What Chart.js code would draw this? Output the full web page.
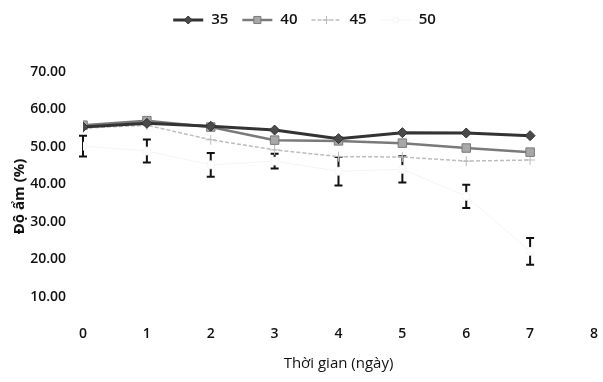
<!DOCTYPE html>
<html>
<head>
<meta charset="utf-8">
<script src="https://cdn.jsdelivr.net/npm/chart.js@4/dist/chart.umd.min.js"></script>
<style>
  body { margin: 0; background: #fff; }
  #wrap { width: 603px; height: 382px; }
</style>
</head>
<body>
<div id="wrap"><canvas id="myChart" width="603" height="382"></canvas></div>
<script>
// days on the x axis
const days = [0, 1, 2, 3, 4, 5, 6, 7];
const seriesNames = ['35', '40', '45', '50'];
// mean moisture (%) per series
const m35 = [55.3, 56.3, 55.5, 54.5, 52.2, 53.8, 53.7, 53.0];
const m40 = [55.8, 57.0, 55.3, 51.8, 51.6, 51.0, 49.7, 48.6];
const m45 = [55.0, 55.8, 51.9, 49.2, 47.4, 47.3, 46.2, 46.5];
const m50 = [50.2, 48.9, 45.2, 46.2, 43.5, 44.0, 36.8, 22.1];
// error bars only visible for the 50 series
const err50 = [2.8, 3.1, 3.2, 2.0, 3.8, 3.5, 3.1, 3.6];
const yTicks = [10, 20, 30, 40, 50, 60, 70];

const FONT = "'Open Sans', sans-serif";

const pts = (arr) => days.map((d, i) => ({ x: d, y: arr[i] }));

const styles = [
    { color: '#333333', fill: '#4a4a4a', width: 3, point: 'rectRot', r: 5, dash: [] },
    { color: '#7a7a7a', fill: '#a8a8a8', width: 2.5, point: 'rect', r: 6, dash: [] },
    { color: '#bdbdbd', fill: '#d4d4d4', width: 1.5, point: 'cross', r: 5, dash: [4, 2] },
    { color: '#f4f4f4', fill: '#ffffff', width: 1, point: 'circle', r: 4, dash: [] }
];
const values = [m35, m40, m45, m50];

const errorBars = {
    id: 'errorBars',
    beforeDatasetsDraw(chart) {
        const { ctx, scales: { x, y } } = chart;
        ctx.save();
        ctx.strokeStyle = '#111';
        ctx.lineWidth = 2;
        days.forEach((d, i) => {
            const px = x.getPixelForValue(d);
            const top = y.getPixelForValue(m50[i] + err50[i]);
            const bot = y.getPixelForValue(m50[i] - err50[i]);
            ctx.beginPath();
            ctx.moveTo(px, top); ctx.lineTo(px, bot);
            ctx.moveTo(px - 4, top); ctx.lineTo(px + 4, top);
            ctx.moveTo(px - 4, bot); ctx.lineTo(px + 4, bot);
            ctx.stroke();
        });
        ctx.restore();
    }
};

// legend: line sample with marker, then label
const topLegend = {
    id: 'topLegend',
    afterDraw(chart) {
        const ctx = chart.ctx;
        ctx.save();
        ctx.font = '600 15px ' + FONT;
        ctx.textBaseline = 'middle';
        const sample = 30, gap = 8, spacing = 14;
        const widths = seriesNames.map(n => sample + gap + ctx.measureText(n).width);
        const total = widths.reduce((a, b) => a + b, 0) + spacing * (seriesNames.length - 1);
        let x0 = chart.width / 2 - total / 2 + 3;
        const yc = 20;
        seriesNames.forEach((n, i) => {
            const s = styles[i];
            ctx.strokeStyle = s.color;
            ctx.lineWidth = s.width;
            ctx.setLineDash(s.dash);
            ctx.beginPath();
            ctx.moveTo(x0, yc); ctx.lineTo(x0 + sample, yc);
            ctx.stroke();
            ctx.setLineDash([]);
            ctx.fillStyle = s.fill;
            ctx.lineWidth = 1;
            Chart.helpers.drawPoint(ctx, { pointStyle: s.point, radius: s.r - 1, borderWidth: 1 }, x0 + sample / 2, yc);
            ctx.fillStyle = '#111';
            ctx.fillText(n, x0 + sample + gap, yc);
            x0 += widths[i] + spacing;
        });
        ctx.restore();
    }
};

new Chart(document.getElementById('myChart'), {
    type: 'line',
    data: {
        datasets: seriesNames.map((n, i) => ({
            label: n,
            data: pts(values[i]),
            borderColor: styles[i].color,
            backgroundColor: styles[i].fill,
            borderWidth: styles[i].width,
            borderDash: styles[i].dash,
            pointStyle: styles[i].point,
            pointRadius: styles[i].r,
            pointBorderColor: styles[i].color,
            pointBackgroundColor: styles[i].fill,
            pointBorderWidth: 1,
            tension: 0
        }))
    },
    options: {
        responsive: false,
        animation: false,
        devicePixelRatio: 1,
        layout: { padding: { top: 72, right: 6, bottom: 9, left: 11 } },
        plugins: {
            legend: { display: false },
            tooltip: { enabled: false }
        },
        scales: {
            x: {
                type: 'linear',
                min: 0,
                max: 8,
                grid: { display: false, drawTicks: false },
                border: { display: false },
                afterFit: (axis) => { axis.height = 52; },
                ticks: { stepSize: 1, padding: 5, color: '#111', font: { family: FONT, size: 14, weight: '600' } },
                title: {
                    display: true,
                    text: 'Thời gian (ngày)',
                    color: '#111',
                    padding: { top: 8, bottom: 0 },
                    font: { family: FONT, size: 15 }
                }
            },
            y: {
                min: 3.5,
                max: 70,
                grid: { display: false, drawTicks: false },
                border: { display: false },
                afterFit: (axis) => { axis.width = 72; },
                afterBuildTicks: (axis) => { axis.ticks = yTicks.map(v => ({ value: v })); },
                ticks: {
                    padding: 17,
                    color: '#111',
                    font: { family: FONT, size: 14, weight: '600' },
                    callback: (v) => Number(v).toFixed(2)
                },
                title: {
                    display: true,
                    text: 'Độ ẩm (%)',
                    color: '#111',
                    padding: { top: 0, bottom: 2 },
                    font: { family: FONT, size: 15, weight: 'bold' }
                }
            }
        }
    },
    plugins: [errorBars, topLegend]
});
</script>
</body>
</html>
